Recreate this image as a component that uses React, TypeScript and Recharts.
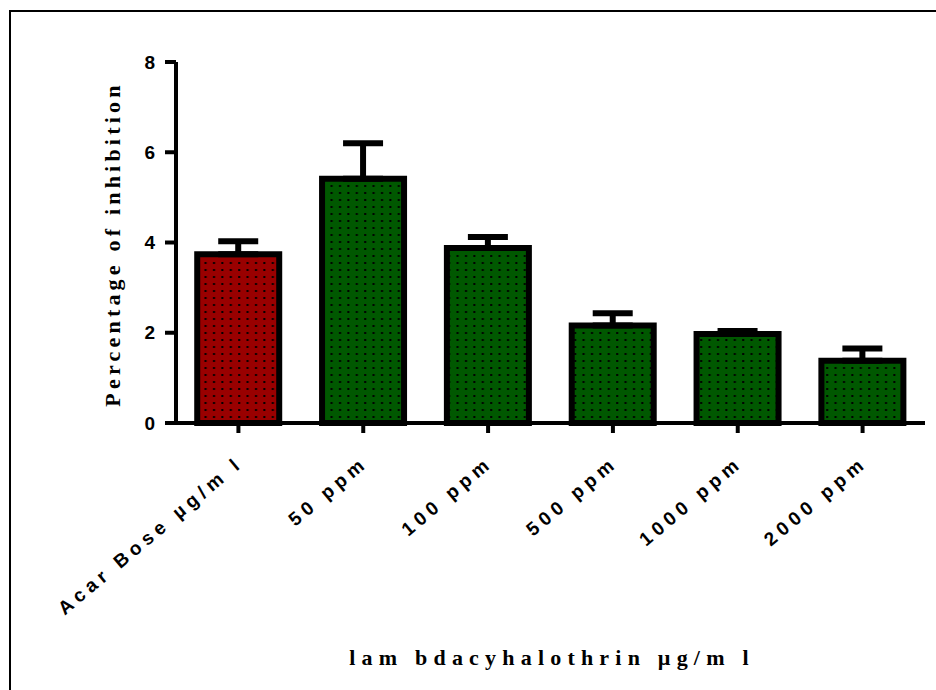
import React from 'react';
import { BarChart, Bar, XAxis, YAxis, ErrorBar, Cell, Label } from 'recharts';

// valeurs
const categories = ['Acar Bose µg/m l', '50 ppm', '100 ppm', '500 ppm', '1000 ppm', '2000 ppm'];
const inhibition = [3.74, 5.41, 3.88, 2.16, 1.97, 1.38];
const sem = [0.29, 0.79, 0.24, 0.27, 0.07, 0.27];
const barPatterns = ['dotRed', 'dotGreen', 'dotGreen', 'dotGreen', 'dotGreen', 'dotGreen'];
const yTicks = [0, 2, 4, 6, 8];

const data = categories.map((name, i) => ({
  name,
  value: inhibition[i],
  err: [0, sem[i]],
}));

const sansBold = 'Arial, "Liberation Sans", sans-serif';
const serifBold = '"Times New Roman", "Liberation Serif", serif';

const XTick = (props: any) => {
  const { x, y, payload } = props;
  const ax = x + 6;
  const ay = y + 30;
  return (
    <text
      x={ax}
      y={ay}
      textAnchor="end"
      transform={`rotate(-40, ${ax}, ${ay})`}
      fontFamily={sansBold}
      fontWeight="bold"
      fontSize={19}
      letterSpacing={5}
      fill="#000"
    >
      {payload.value}
    </text>
  );
};

const App = () => {
  return (
    <div style={{ position: 'absolute', left: 0, top: 0, width: 936, height: 690, background: '#fff' }}>
      <div
        style={{
          position: 'absolute', left: 9, top: 10, right: 0, bottom: 0,
          borderTop: '2px solid #000', borderLeft: '2px solid #000',
        }}
      />
      <div style={{ position: 'absolute', left: 0, top: 0 }}>
        <BarChart
          width={936}
          height={690}
          data={data}
          margin={{ top: 62, right: 11, left: 116, bottom: 67 }}
          barCategoryGap="17%"
        >
          <defs>
            <pattern id="dotRed" width="8.4" height="7" patternUnits="userSpaceOnUse">
              <rect width="8.4" height="7" fill="#990000" />
              <rect x="3" y="3" width="2" height="2" fill="#000" />
            </pattern>
            <pattern id="dotGreen" width="8.4" height="7" patternUnits="userSpaceOnUse">
              <rect width="8.4" height="7" fill="#005800" />
              <rect x="3" y="3" width="2" height="2" fill="#000" />
            </pattern>
          </defs>
          <XAxis
            dataKey="name"
            interval={0}
            height={200}
            tick={<XTick />}
            tickSize={10}
            axisLine={{ stroke: '#000', strokeWidth: 4 }}
            tickLine={{ stroke: '#000', strokeWidth: 4 }}
          >
            <Label
              content={() => (
                <text
                  x={552}
                  y={665}
                  textAnchor="middle"
                  fontFamily={serifBold}
                  fontWeight="bold"
                  fontSize={22}
                  letterSpacing={6.2}
                  fill="#000"
                >
                  lam bdacyhalothrin µg/m l
                </text>
              )}
            />
          </XAxis>
          <YAxis
            width={60}
            domain={[0, 8]}
            ticks={yTicks}
            tickSize={11}
            tickMargin={10}
            tick={{ fill: '#000', fontFamily: sansBold, fontWeight: 'bold', fontSize: 19 }}
            axisLine={{ stroke: '#000', strokeWidth: 4 }}
            tickLine={{ stroke: '#000', strokeWidth: 4 }}
          >
            <Label
              content={() => (
                <text
                  x={120}
                  y={244}
                  textAnchor="middle"
                  transform="rotate(-90, 120, 244)"
                  fontFamily={serifBold}
                  fontWeight="bold"
                  fontSize={22}
                  letterSpacing={4.2}
                  fill="#000"
                >
                  Percentage of inhibition
                </text>
              )}
            />
          </YAxis>
          <Bar dataKey="value" stroke="#000" strokeWidth={6} isAnimationActive={false}>
            {data.map((d, i) => (
              <Cell key={d.name} fill={`url(#${barPatterns[i]})`} />
            ))}
            <ErrorBar dataKey="err" direction="y" width={20} stroke="#000" strokeWidth={6} />
          </Bar>
        </BarChart>
      </div>
    </div>
  );
};

export default App;
